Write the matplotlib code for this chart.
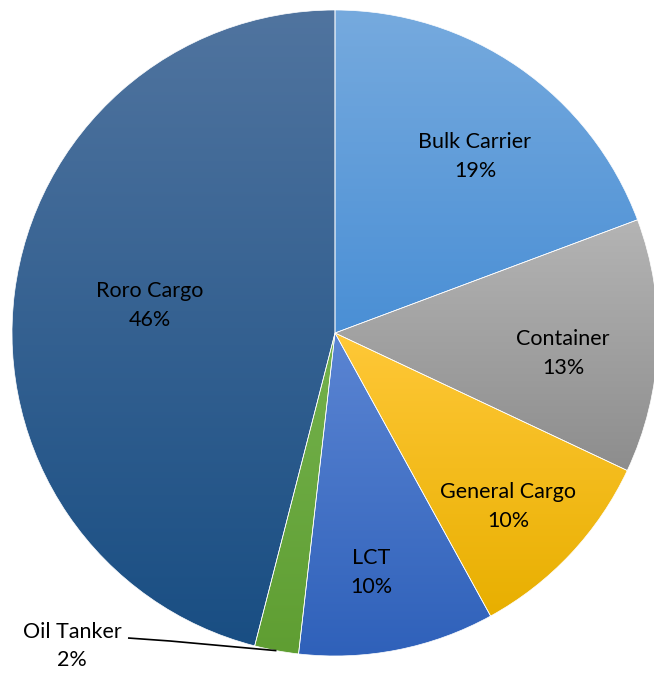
import numpy as np
import matplotlib
matplotlib.use("Agg")
import matplotlib.pyplot as plt
from matplotlib.colors import LinearSegmentedColormap

# data, clockwise from 12 o'clock
categories = ["Bulk Carrier", "Container", "General Cargo", "LCT", "Oil Tanker", "Roro Cargo"]
shares = [19.3, 12.7, 10.0, 9.8, 2.2, 46.0]

# gradient colours (top, bottom) per slice
top_colors = ["#76aade", "#b4b4b4", "#ffc838", "#5b85d3", "#74b24d", "#50749f"]
bottom_colors = ["#4a8fd5", "#8d8d8d", "#e8af00", "#2f61ba", "#5f9e32", "#194e83"]
# label placement: fraction of radius and angle shift from the slice middle
label_frac = [0.697, 0.709, 0.759, 0.749, None, 0.579]
label_shift = [-3.7, -2.7, -1.9, -2.5, 0.0, -1.3]

plt.rcParams["font.family"] = ["Lato", "DejaVu Sans"]
FS = 15.5
LS = 1.55

W, H = 654, 673
fig = plt.figure(figsize=(W / 100, H / 100), dpi=100)
ax = fig.add_axes([0, 0, 1, 1])

cx, cy, R = 335, H - 333, 323

wedges, _ = ax.pie(shares, startangle=90, counterclock=False, center=(cx, cy),
                   radius=R, frame=True,
                   wedgeprops=dict(edgecolor="white", linewidth=0.5))

for w, c_top, c_bot in zip(wedges, top_colors, bottom_colors):
    w.set_facecolor("none")
    bb = w.get_path().get_extents(w.get_patch_transform())
    cmap = LinearSegmentedColormap.from_list("g", [c_bot, c_top])
    grad = np.linspace(0, 1, 256).reshape(-1, 1)
    im = ax.imshow(grad, cmap=cmap, origin="lower", aspect="auto",
                   extent=(bb.x0, bb.x1, bb.y0, bb.y1), zorder=0.5)
    im.set_clip_path(w)

ax.set_xlim(0, W)
ax.set_ylim(0, H)
ax.set_aspect("equal")
ax.axis("off")

for w, name, val, frac, shift in zip(wedges, categories, shares, label_frac, label_shift):
    mid = np.deg2rad((w.theta1 + w.theta2) / 2 + shift)
    if frac is None:
        ex, ey = cx + R * np.cos(mid), cy + R * np.sin(mid)
        ax.plot([ex, 170, 128], [ey, H - 641, H - 638], color="black", lw=1.2,
                solid_capstyle="butt", zorder=3)
        ax.text(72, H - 646, f"{name}\n{val:.0f}%", ha="center", va="center",
                fontsize=FS, linespacing=LS, zorder=3)
        continue
    x = cx + frac * R * np.cos(mid)
    y = cy + frac * R * np.sin(mid)
    ax.text(x, y, f"{name}\n{val:.0f}%", ha="center", va="center",
            fontsize=FS, linespacing=LS, zorder=3)

fig.savefig("out.png", dpi=100)
